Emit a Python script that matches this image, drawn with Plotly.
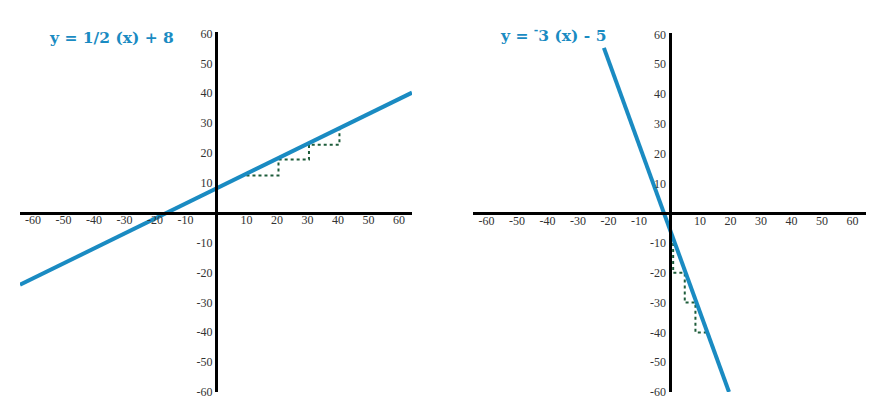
import plotly.graph_objects as go

# left graph: y = 1/2 (x) + 8
left_line_x = [-64.3, 64.3]
left_line_y = [-24.1, 40.2]
left_step_x = [10, 20.5, 20.5, 30.5, 30.5, 40.5, 40.5]
left_step_y = [12.5, 12.5, 17.8, 17.8, 22.8, 22.8, 28]

# right graph: y = -3 (x) - 5
right_line_x = [-21.5, 19.5]
right_line_y = [55.5, -60]
right_step_x = [1.2, 1.2, 5, 5, 8.5, 8.5, 12]
right_step_y = [-10, -20, -20, -30, -30, -40, -40]

tick_vals = [-60, -50, -40, -30, -20, -10, 10, 20, 30, 40, 50, 60]
tick_text = ["-60", "-50", "-40", "-30", "-20", "-10", "10", "20", "30", "40", "50", "60"]

titles = ["y = 1/2 (x) + 8", "y = <sup>-</sup>3 (x) - 5"]

BLUE = "#1a8bc2"
GREEN = "#1d5c3a"

fig = go.Figure()
fig.add_trace(go.Scatter(x=left_step_x, y=left_step_y, mode="lines",
                         line=dict(color=GREEN, width=2, dash="dot"), xaxis="x", yaxis="y"))
fig.add_trace(go.Scatter(x=left_line_x, y=left_line_y, mode="lines",
                         line=dict(color=BLUE, width=4), xaxis="x", yaxis="y"))
fig.add_trace(go.Scatter(x=right_step_x, y=right_step_y, mode="lines",
                         line=dict(color=GREEN, width=2, dash="dot"), xaxis="x2", yaxis="y2"))
fig.add_trace(go.Scatter(x=right_line_x, y=right_line_y, mode="lines",
                         line=dict(color=BLUE, width=4), xaxis="x2", yaxis="y2"))

tickfont = dict(family="Liberation Serif", size=12, color="#333")
common = dict(showgrid=False, zeroline=False, showline=True, linecolor="black", linewidth=3,
              ticks="", tickmode="array", tickvals=tick_vals, ticktext=tick_text,
              tickfont=tickfont, fixedrange=True, automargin=False)

# axis lines sit on the zero of the other axis
def zero_pos(dom, rng):
    return dom[0] + (0 - rng[0]) / (rng[1] - rng[0]) * (dom[1] - dom[0])

x1_dom, x1_rng = [20 / 893, 412 / 893], [-64.3, 64.3]
y1_dom, y1_rng = [(414 - 392) / 414, (414 - 32) / 414], [-60, 60.5]
x2_dom, x2_rng = [473 / 893, 866 / 893], [-64.4, 64.4]
y2_dom, y2_rng = [(414 - 392) / 414, (414 - 33) / 414], [-60, 60.5]

fig.update_layout(
    width=893, height=414,
    margin=dict(l=0, r=0, t=0, b=0),
    paper_bgcolor="white", plot_bgcolor="white",
    showlegend=False,
    xaxis=dict(domain=x1_dom, range=x1_rng, anchor="free", position=zero_pos(y1_dom, y1_rng),
               ticklabelstandoff=-5, **common),
    yaxis=dict(domain=y1_dom, range=y1_rng, anchor="free", position=zero_pos(x1_dom, x1_rng), **common),
    xaxis2=dict(domain=x2_dom, range=x2_rng, anchor="free", position=zero_pos(y2_dom, y2_rng),
                ticklabelstandoff=-5, **common),
    yaxis2=dict(domain=y2_dom, range=y2_rng, anchor="free", position=zero_pos(x2_dom, x2_rng), **common),
)

title_font = dict(family="DejaVu Serif", size=15.5, color=BLUE)
fig.add_annotation(text="<b>" + titles[0] + "</b>", xref="paper", yref="paper",
                   x=47 / 893, y=1 - 38 / 414, xanchor="left", yanchor="middle",
                   showarrow=False, font=title_font)
fig.add_annotation(text="<b>" + titles[1] + "</b>", xref="paper", yref="paper",
                   x=498 / 893, y=1 - 34 / 414, xanchor="left", yanchor="middle",
                   showarrow=False, font=title_font)

fig.write_html("out.html", config={"displayModeBar": False},
               post_script="document.body.style.margin='0';")
